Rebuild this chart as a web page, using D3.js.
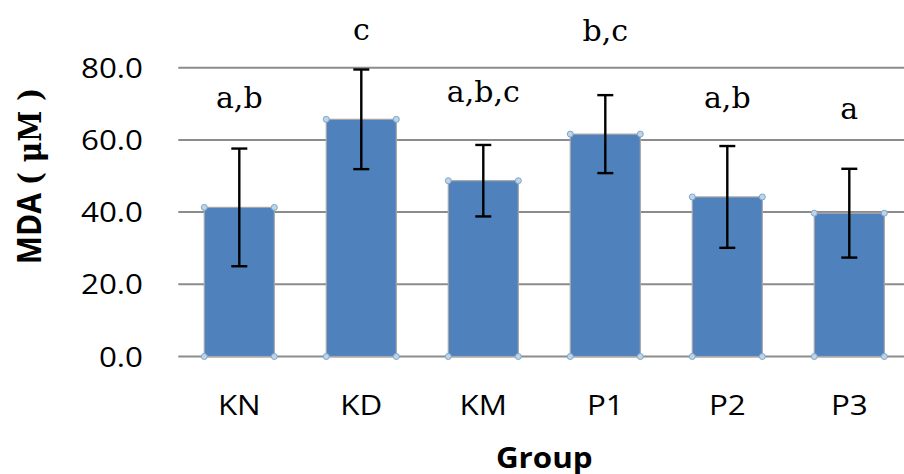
<!DOCTYPE html>
<html><head><meta charset="utf-8">
<script src="https://cdn.jsdelivr.net/npm/d3@7"></script>
<style>body{margin:0;background:#fff;}svg{display:block;}</style>
</head><body>
<svg id="chart" width="904" height="474"></svg>
<script>
const categories = ["KN","KD","KM","P1","P2","P3"];
const means = [41.3, 65.7, 48.7, 61.6, 44.2, 39.7];
const errors = [16.3, 13.8, 9.9, 10.8, 14.1, 12.3];
const letters = ["a,b","c","a,b,c","b,c","a,b","a"];
const letterValues = [68.8, 87.7, 70.5, 87.4, 68.8, 65.8];
const yTicks = [0, 20, 40, 60, 80];

const svg = d3.select("#chart");
const sx = 1.12;
const x = d3.scaleBand().domain(categories).range([178.3, 910.3]).padding(0);
const y = d3.scaleLinear().domain([0, 80]).range([356.5, 67.7]);
const barW = x.bandwidth() * 0.574;
const cx = d => x(d) + x.bandwidth() / 2;

// gridlines
svg.append("g").selectAll("line").data(yTicks).join("line")
  .attr("x1", 178.3).attr("x2", 904)
  .attr("y1", d => y(d)).attr("y2", d => y(d))
  .attr("stroke", "#8c8c8c").attr("stroke-width", 2);

// y tick labels
svg.append("g").selectAll("text").data(yTicks).join("text")
  .attr("transform", d => `translate(143,${y(d)}) scale(${sx},1)`)
  .attr("text-anchor", "end").attr("dy", "0.36em")
  .attr("font-family", "Open Sans").attr("font-size", 28).attr("fill", "#000")
  .text(d => d3.format(".1f")(d));

// bars
const data = categories.map((c, i) => ({c, m: means[i], e: errors[i], l: letters[i], lv: letterValues[i]}));
svg.append("g").selectAll("rect").data(data).join("rect")
  .attr("x", d => cx(d.c) - barW / 2).attr("width", barW)
  .attr("y", d => y(d.m)).attr("height", d => y(0) - y(d.m))
  .attr("fill", "#4f81bd").attr("stroke", "#a6a6a6").attr("stroke-width", 1.2);

// corner handles
const corners = [];
data.forEach(d => {
  [-1, 1].forEach(s => {
    corners.push({x: cx(d.c) + s * barW / 2, v: d.m});
    corners.push({x: cx(d.c) + s * barW / 2, v: 0});
  });
});
svg.append("g").selectAll("circle").data(corners).join("circle")
  .attr("cx", d => d.x).attr("cy", d => y(d.v)).attr("r", 3)
  .attr("fill", "#bcd5ea").attr("stroke", "#7fa5c8").attr("stroke-width", 1);

// error bars
const eb = svg.append("g").attr("stroke", "#000").attr("stroke-width", 2.4);
eb.selectAll("line.v").data(data).join("line").attr("class", "v")
  .attr("x1", d => cx(d.c)).attr("x2", d => cx(d.c))
  .attr("y1", d => y(d.m + d.e)).attr("y2", d => y(d.m - d.e));
eb.selectAll("line.t").data(data).join("line").attr("class", "t")
  .attr("x1", d => cx(d.c) - 8).attr("x2", d => cx(d.c) + 8)
  .attr("y1", d => y(d.m + d.e)).attr("y2", d => y(d.m + d.e));
eb.selectAll("line.b").data(data).join("line").attr("class", "b")
  .attr("x1", d => cx(d.c) - 8).attr("x2", d => cx(d.c) + 8)
  .attr("y1", d => y(d.m - d.e)).attr("y2", d => y(d.m - d.e));

// significance letters
svg.append("g").selectAll("text").data(data).join("text")
  .attr("transform", d => `translate(${cx(d.c)},${y(d.lv)})`)
  .attr("text-anchor", "middle")
  .attr("font-family", "DejaVu Serif").attr("font-size", 30).attr("fill", "#000")
  .text(d => d.l);

// x labels
svg.append("g").selectAll("text").data(categories).join("text")
  .attr("transform", d => `translate(${cx(d)},415) scale(${sx},1)`)
  .attr("text-anchor", "middle")
  .attr("font-family", "Open Sans").attr("font-size", 28).attr("fill", "#000")
  .text(d => d);

// x title
svg.append("text")
  .attr("transform", `translate(${(178.3 + 910.3) / 2},468) scale(${sx},1)`)
  .attr("text-anchor", "middle")
  .attr("font-family", "Open Sans").attr("font-weight", "bold").attr("font-size", 28)
  .text("Group");

// y title
const yt = svg.append("text")
  .attr("transform", `translate(41,176) rotate(-90) scale(1,${sx})`)
  .attr("text-anchor", "middle").attr("fill", "#000").attr("font-size", 30);
yt.append("tspan").attr("font-family", "Open Sans").attr("font-weight", "bold").text("MDA ");
yt.append("tspan").attr("font-family", "DejaVu Serif").attr("font-weight", "bold").attr("font-size", 28).text("( μM )");
</script>
</body></html>
